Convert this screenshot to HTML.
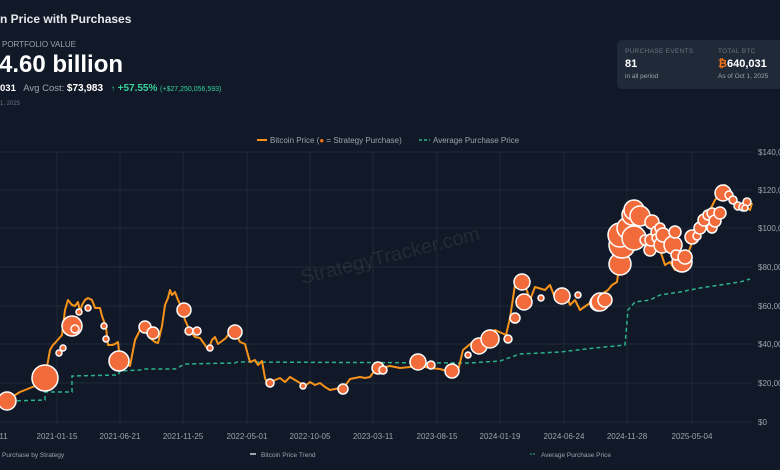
<!DOCTYPE html>
<html><head><style>
body{margin:0;width:780px;height:470px;background:#111827;overflow:hidden;font-family:"Liberation Sans",sans-serif;color:#e5e7eb;position:relative}
.a{position:absolute;white-space:nowrap}
</style></head><body>
<div class="a" style="left:0;top:12px;font-size:12px;font-weight:bold;color:#e5e7eb">n Price with Purchases</div>
<div class="a" style="left:2px;top:40px;font-size:8px;color:#9ca3af">PORTFOLIO VALUE</div>
<div class="a" style="left:-1px;top:51px;font-size:24px;font-weight:bold;color:#fff">4.60 billion</div>
<div class="a" style="left:0;top:83px;font-size:9.5px;color:#9ca3af"><b style="color:#fff">031</b>&nbsp;&nbsp; Avg Cost: <b style="color:#fff;font-size:10px">$73,983</b>&nbsp;&nbsp;&nbsp;<span style="color:#34d399;font-size:8px">↑</span> <b style="color:#34d399;font-size:10px">+57.55%</b> <span style="color:#34d399;font-size:7px">(+$27,250,056,593)</span></div>
<div class="a" style="left:0;top:101px;font-size:6px;color:#6b7280">1, 2025</div>
<div class="a" style="left:617px;top:40px;width:170px;height:49px;background:#1f2937;border-radius:5px"></div>
<div class="a" style="left:625px;top:48px;font-size:6.5px;color:#6b7280;letter-spacing:.3px">PURCHASE EVENTS</div>
<div class="a" style="left:625px;top:58px;font-size:11px;font-weight:bold;color:#fff">81</div>
<div class="a" style="left:625px;top:73px;font-size:6.5px;color:#9ca3af">in all period</div>
<div class="a" style="left:718px;top:48px;font-size:6.5px;color:#6b7280;letter-spacing:.3px">TOTAL BTC</div>
<div class="a" style="left:718px;top:58px;font-size:11px;font-weight:bold;color:#fff"><span style="color:#f97316">₿</span>640,031</div>
<div class="a" style="left:718px;top:73px;font-size:6.5px;color:#9ca3af">As of Oct 1, 2025</div>
<svg class="a" style="left:0;top:0" width="780" height="470">
<g stroke="#263042" stroke-width="0.7">
<line x1="0" x2="752" y1="152" y2="152"/><line x1="0" x2="752" y1="190" y2="190"/><line x1="0" x2="752" y1="228" y2="228"/><line x1="0" x2="752" y1="267" y2="267"/><line x1="0" x2="752" y1="306" y2="306"/><line x1="0" x2="752" y1="344" y2="344"/><line x1="0" x2="752" y1="383" y2="383"/><line x1="0" x2="752" y1="422" y2="422"/>
<line x1="57" x2="57" y1="152" y2="425"/><line x1="120" x2="120" y1="152" y2="425"/><line x1="183" x2="183" y1="152" y2="425"/><line x1="247" x2="247" y1="152" y2="425"/><line x1="310" x2="310" y1="152" y2="425"/><line x1="373" x2="373" y1="152" y2="425"/><line x1="437" x2="437" y1="152" y2="425"/><line x1="500" x2="500" y1="152" y2="425"/><line x1="564" x2="564" y1="152" y2="425"/><line x1="627" x2="627" y1="152" y2="425"/><line x1="692" x2="692" y1="152" y2="425"/>
</g>
<g font-size="8" fill="#9ca3af">
<text x="758" y="155">$140,000</text><text x="758" y="193">$120,000</text><text x="758" y="231">$100,000</text><text x="758" y="270">$80,000</text><text x="758" y="309">$60,000</text><text x="758" y="347">$40,000</text><text x="758" y="386">$20,000</text><text x="758" y="425">$0</text>
</g>
<g font-size="8" fill="#9ca3af" text-anchor="middle">
<text x="0" y="439">0-11</text><text x="57" y="439">2021-01-15</text><text x="120" y="439">2021-06-21</text><text x="183" y="439">2021-11-25</text><text x="247" y="439">2022-05-01</text><text x="310" y="439">2022-10-05</text><text x="373" y="439">2023-03-11</text><text x="437" y="439">2023-08-15</text><text x="500" y="439">2024-01-19</text><text x="564" y="439">2024-06-24</text><text x="627" y="439">2024-11-28</text><text x="692" y="439">2025-05-04</text>
</g>
<text x="390" y="262" font-size="20" fill="#ffffff" fill-opacity="0.08" text-anchor="middle" transform="rotate(-14 390 255)">StrategyTracker.com</text>
<g font-size="8" fill="#9ca3af">
<line x1="257" x2="267" y1="140" y2="140" stroke="#f7931a" stroke-width="2"/>
<text x="270" y="143">Bitcoin Price (<tspan fill="#f97316">●</tspan> = Strategy Purchase)</text>
<line x1="419" x2="430" y1="140" y2="140" stroke="#2bb38a" stroke-width="1.5" stroke-dasharray="3 2"/>
<text x="433" y="143">Average Purchase Price</text>
</g>
<g font-size="6.5" fill="#9ca3af">
<text x="2" y="457">Purchase by Strategy</text>
<rect x="250" y="453" width="6" height="2" fill="#9ca3af"/><text x="261" y="457">Bitcoin Price Trend</text>
<line x1="530" x2="536" y1="454" y2="454" stroke="#2bb38a" stroke-dasharray="2 1"/><text x="541" y="457">Average Purchase Price</text>
</g>
<polyline fill="none" stroke="#2bb38a" stroke-width="1.5" stroke-dasharray="4 3" points="10,401 45,400 45,392 72,392 72,376 118,375 120,371 140,370 145,369 175,369 185,364 235,363 237,362 470,363 500,361 520,354 560,352 595,348 625,345 628,310 635,302 650,300 660,295 680,292 700,288 720,285 740,282 750,279"/>
<polyline fill="none" stroke="#f7931a" stroke-width="2" stroke-linejoin="round" points="0,404 7,400 20,392 35,386 45,378 50,350 53,345 55,343 62,335 65,310 68,300 72,305 75,306 78,302 80,312 82,305 85,300 88,298 92,300 95,308 100,308 102,316 106,327 108,345 112,345 115,344 118,342 120,361 125,364 130,366 135,340 140,330 143,325 147,327 150,338 155,342 158,343 162,326 165,305 168,298 170,290 172,295 175,292 178,300 182,308 185,320 190,331 195,337 200,338 205,345 208,350 212,340 215,337 218,344 222,341 226,338 230,332 235,332 240,342 245,344 248,355 250,362 255,360 258,365 262,361 265,378 268,385 275,380 280,378 285,382 290,377 295,380 300,383 305,386 310,382 315,385 320,383 325,387 330,390 335,389 340,388 345,386 350,379 355,378 360,377 365,378 370,377 375,370 380,366 385,367 390,366 400,368 410,367 420,366 430,368 440,369 450,372 458,371 463,350 475,340 485,337 495,330 506,335 510,318 515,285 520,283 525,285 530,300 535,287 545,290 550,285 555,298 560,300 565,290 570,305 575,300 580,310 590,303 595,300 600,295 608,290 612,285 617,282 620,260 625,250 630,230 640,210 650,222 655,245 660,250 665,265 670,262 675,270 680,268 685,262 690,248 695,235 700,225 705,215 710,210 715,200 720,195 725,185 730,192 735,200 740,205 745,205 750,210 752,203"/>
<g fill="#f26b3a" stroke="#fff" stroke-width="1.5">
<circle cx="7" cy="401" r="9"/><circle cx="45" cy="378" r="13"/><circle cx="72" cy="326" r="10"/><circle cx="75" cy="329" r="4"/><circle cx="79" cy="312" r="3"/><circle cx="88" cy="308" r="3"/><circle cx="59" cy="353" r="3"/><circle cx="63" cy="348" r="3"/><circle cx="104" cy="326" r="3"/><circle cx="106" cy="339" r="3"/><circle cx="119" cy="361" r="10"/><circle cx="145" cy="327" r="6"/><circle cx="153" cy="333" r="6"/><circle cx="184" cy="310" r="7"/><circle cx="189" cy="331" r="4"/><circle cx="197" cy="331" r="4"/><circle cx="210" cy="348" r="3"/><circle cx="235" cy="332" r="7"/><circle cx="270" cy="383" r="4"/><circle cx="303" cy="386" r="3"/><circle cx="343" cy="389" r="5"/><circle cx="378" cy="368" r="6"/><circle cx="383" cy="370" r="4"/>
<circle cx="418" cy="362" r="8"/><circle cx="431" cy="365" r="4"/><circle cx="452" cy="371" r="7"/><circle cx="468" cy="355" r="3"/><circle cx="479" cy="346" r="8"/><circle cx="490" cy="339" r="9"/><circle cx="508" cy="339" r="4"/><circle cx="515" cy="318" r="5"/><circle cx="522" cy="282" r="8"/><circle cx="524" cy="302" r="8"/><circle cx="541" cy="298" r="3"/><circle cx="562" cy="296" r="8"/><circle cx="578" cy="295" r="3"/><circle cx="598" cy="303" r="8"/><circle cx="600" cy="302" r="9"/><circle cx="605" cy="300" r="7"/>
<circle cx="620" cy="264" r="11"/><circle cx="622" cy="245" r="13"/><circle cx="620" cy="235" r="12"/><circle cx="628" cy="228" r="11"/><circle cx="632" cy="215" r="10"/><circle cx="634" cy="238" r="12"/><circle cx="634" cy="210" r="10"/><circle cx="640" cy="216" r="10"/><circle cx="645" cy="240" r="5"/><circle cx="650" cy="250" r="6"/><circle cx="652" cy="222" r="7"/><circle cx="651" cy="240" r="6"/><circle cx="657" cy="232" r="6"/><circle cx="660" cy="228" r="5"/><circle cx="656" cy="238" r="4"/><circle cx="662" cy="245" r="8"/><circle cx="663" cy="235" r="7"/><circle cx="673" cy="245" r="9"/><circle cx="675" cy="232" r="6"/><circle cx="682" cy="262" r="10"/><circle cx="676" cy="255" r="5"/><circle cx="687" cy="258" r="5"/><circle cx="685" cy="257" r="7"/><circle cx="692" cy="237" r="7"/><circle cx="697" cy="236" r="4"/><circle cx="700" cy="228" r="6"/><circle cx="704" cy="220" r="6"/><circle cx="708" cy="215" r="5"/><circle cx="712" cy="213" r="5"/><circle cx="712" cy="228" r="5"/><circle cx="715" cy="221" r="6"/><circle cx="720" cy="213" r="6"/><circle cx="723" cy="193" r="8"/><circle cx="729" cy="195" r="4"/><circle cx="733" cy="200" r="4"/><circle cx="738" cy="206" r="4"/><circle cx="743" cy="207" r="4"/><circle cx="747" cy="202" r="4"/><circle cx="745" cy="208" r="3"/>
</g>
</svg>
</body></html>
